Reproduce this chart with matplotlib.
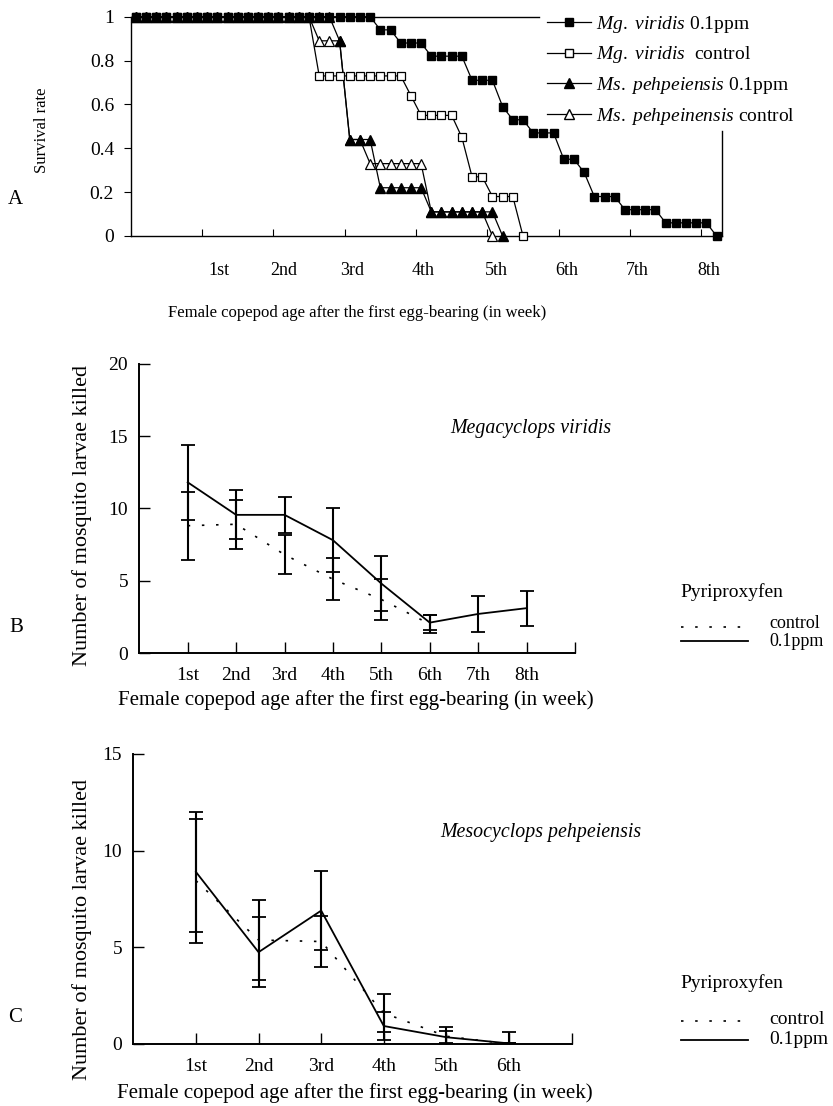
import numpy as np
import matplotlib
matplotlib.use("Agg")
import matplotlib.pyplot as plt
from matplotlib.lines import Line2D

plt.rcParams['font.family'] = ['Liberation Serif', 'DejaVu Serif']
plt.rcParams['mathtext.fontset'] = 'custom'
plt.rcParams['mathtext.rm'] = 'Liberation Serif'
plt.rcParams['mathtext.it'] = 'Liberation Serif:italic'

nan = np.nan
# ---------------- Panel A : survival rate (daily, 58 days) ----------------
mg_01 = [1.0, 1.0, 1.0, 1.0, 1.0, 1.0, 1.0, 1.0, 1.0, 1.0, 1.0, 1.0,
         1.0, 1.0, 1.0, 1.0, 1.0, 1.0, 1.0, 1.0, 1.0, 1.0, 1.0, 1.0,
         0.94, 0.94, 0.88, 0.88, 0.88, 0.82, 0.82, 0.82, 0.82,
         0.71, 0.71, 0.71, 0.59, 0.53, 0.53, 0.47, 0.47, 0.47,
         0.35, 0.35, 0.29, 0.18, 0.18, 0.18, 0.12, 0.12, 0.12, 0.12,
         0.06, 0.06, 0.06, 0.06, 0.06, 0.0]
mg_ctrl = [1.0, 1.0, 1.0, 1.0, 1.0, 1.0, 1.0, 1.0, 1.0, 1.0, 1.0, 1.0,
           1.0, 1.0, 1.0, 1.0, 1.0, 1.0,
           0.73, 0.73, 0.73, 0.73, 0.73, 0.73, 0.73, 0.73, 0.73,
           0.64, 0.55, 0.55, 0.55, 0.55, 0.45, 0.27, 0.27,
           0.18, 0.18, 0.18, 0.0,
           nan, nan, nan, nan, nan, nan, nan, nan, nan, nan,
           nan, nan, nan, nan, nan, nan, nan, nan, nan]
ms_01 = [1.0, 1.0, 1.0, 1.0, 1.0, 1.0, 1.0, 1.0, 1.0, 1.0, 1.0, 1.0,
         1.0, 1.0, 1.0, 1.0, 1.0, 1.0, 1.0, 1.0,
         0.89, 0.44, 0.44, 0.44, 0.22, 0.22, 0.22, 0.22, 0.22,
         0.11, 0.11, 0.11, 0.11, 0.11, 0.11, 0.11, 0.0,
         nan, nan, nan, nan, nan, nan, nan, nan, nan, nan, nan,
         nan, nan, nan, nan, nan, nan, nan, nan, nan, nan]
ms_ctrl = [1.0, 1.0, 1.0, 1.0, 1.0, 1.0, 1.0, 1.0, 1.0, 1.0, 1.0, 1.0,
           1.0, 1.0, 1.0, 1.0, 1.0, 1.0,
           0.89, 0.89, 0.89, 0.44, 0.44,
           0.33, 0.33, 0.33, 0.33, 0.33, 0.33,
           0.11, 0.11, 0.11, 0.11, 0.11, 0.11, 0.0,
           nan, nan, nan, nan, nan, nan, nan, nan, nan, nan, nan,
           nan, nan, nan, nan, nan, nan, nan, nan, nan, nan, nan]
week_labels = ['1st', '2nd', '3rd', '4th', '5th', '6th', '7th', '8th']
a_label_pos = [8.66, 15.0, 21.7, 28.7, 35.9, 42.8, 49.7, 56.7]
a_yticks = [0, 0.2, 0.4, 0.6, 0.8, 1.0]
a_yticklabels = ['0', '0.2', '0.4', '0.6', '0.8', '1']

# ---------------- Panel B : Megacyclops viridis ----------------
b_weeks = [1, 2, 3, 4, 5, 6, 7, 8]
b_ppm = [11.8, 9.55, 9.55, 7.8, 4.8, 2.1, 2.7, 3.1]
b_ppm_err = [2.6, 1.7, 1.25, 2.2, 1.9, 0.5, 1.27, 1.2]
b_ctrl_weeks = [1, 2, 3, 4, 5, 6]
b_ctrl = [8.8, 8.9, 6.8, 5.1, 3.7, 2.0]
b_ctrl_err = [2.35, 1.7, 1.33, 1.45, 1.45, 0.6]

# ---------------- Panel C : Mesocyclops pehpeiensis ----------------
c_weeks = [1, 2, 3, 4, 5, 6]
c_ppm = [8.9, 4.75, 6.9, 0.93, 0.35, 0.03]
c_ppm_err = [3.1, 1.8, 2.05, 0.7, 0.3, 0.0]
c_ctrl_weeks = [1, 2, 3, 4, 5, 6]
c_ctrl = [8.45, 5.38, 5.3, 1.6, 0.4, 0.0]
c_ctrl_err = [3.2, 2.07, 1.3, 1.0, 0.5, 0.6]

W, H = 833, 1106
fig = plt.figure(figsize=(W / 100, H / 100), dpi=100)


def fx(px):
    return px / W


def fy(py):
    return 1 - py / H


def axes_px(l, t, r, b):
    return fig.add_axes([fx(l), fy(b), (r - l) / W, (b - t) / H])


FS = 14

# ================= Panel A =================
axA = axes_px(130.7, 16.7, 721.7, 236)
days = np.arange(len(mg_01)) + 0.5
axA.plot(days, ms_ctrl, color='black', lw=0.9, marker='^', ms=6.5,
         mfc='white', mec='black', mew=0.9, clip_on=False, zorder=3)
axA.plot(days, ms_01, color='black', lw=0.9, marker='^', ms=6.5,
         mfc='black', mec='black', clip_on=False, zorder=4)
axA.plot(days, mg_ctrl, color='black', lw=0.9, marker='s', ms=6,
         mfc='white', mec='black', mew=0.9, clip_on=False, zorder=5)
axA.plot(days, mg_01, color='black', lw=0.9, marker='s', ms=6,
         mfc='black', mec='black', clip_on=False, zorder=6)
axA.set_xlim(0, 58)
axA.set_ylim(0, 1)
axA.set_xticks([7, 14, 21, 28, 35, 42, 49, 56])
axA.set_xticklabels([])
axA.set_xticks(a_label_pos, minor=True)
axA.set_xticklabels(week_labels, minor=True)
axA.tick_params(axis='x', which='major', direction='in', length=5, width=0.8)
axA.tick_params(axis='x', which='minor', length=0, pad=19, labelsize=13)
axA.set_yticks(a_yticks)
axA.set_yticklabels(a_yticklabels)
axA.tick_params(axis='y', direction='out', length=5, width=0.8, pad=7,
                labelsize=14)
for s in axA.spines.values():
    s.set_linewidth(1.0)
axA.spines['top'].set_bounds(0, 40.1)
axA.spines['right'].set_bounds(0, 0.479)

hA = [Line2D([], [], color='black', lw=0.9, marker='s', ms=6, mfc='black', mec='black'),
      Line2D([], [], color='black', lw=0.9, marker='s', ms=6, mfc='white', mec='black'),
      Line2D([], [], color='black', lw=0.9, marker='^', ms=6.5, mfc='black', mec='black'),
      Line2D([], [], color='black', lw=0.9, marker='^', ms=6.5, mfc='white', mec='black')]
lA = [r'$\mathit{Mg.\ viridis}$ 0.1ppm',
      r'$\mathit{Mg.\ viridis}$  control',
      r'$\mathit{Ms.\ pehpeiensis}$ 0.1ppm',
      r'$\mathit{Ms.\ pehpeinensis}$ control']
fig.legend(hA, lA, loc='upper left', bbox_to_anchor=(fx(533), fy(0)),
           frameon=False, fontsize=14, handlelength=2.3, handletextpad=0.25,
           labelspacing=0.5, borderpad=0.2)

fig.text(fx(42), fy(130), 'Survival rate', rotation=90, ha='center',
         va='center', fontsize=12)
fig.text(fx(357), fy(313), 'Female copepod age after the first egg-bearing (in week)',
         ha='center', va='center', fontsize=12)
fig.text(fx(15), fy(199), 'A', ha='center', va='center', fontsize=15)


# ================= Panels B & C =================
def count_panel(ax, xmax, ymax, yticks, ppm_x, ppm, ppm_err, ctrl_x, ctrl, ctrl_err):
    ax.errorbar(ctrl_x, ctrl, yerr=ctrl_err, color='black', lw=1.2,
                ls=(0, (1.5, 7)), elinewidth=1.5, capsize=5, capthick=1.3)
    ax.errorbar(ppm_x, ppm, yerr=ppm_err, color='black', lw=1.3,
                ls='-', elinewidth=1.5, capsize=5, capthick=1.3)
    ax.set_xlim(0, xmax)
    ax.set_ylim(0, ymax)
    ax.set_xticks(list(range(1, xmax + 1)))
    ax.set_xticklabels(week_labels[:xmax - 1] + [''])
    ax.set_yticks(yticks)
    ax.tick_params(axis='both', direction='in', length=8, width=1.0,
                   labelsize=FS)
    ax.tick_params(axis='x', pad=10)
    ax.tick_params(axis='y', pad=8)
    ax.spines['top'].set_visible(False)
    ax.spines['right'].set_visible(False)
    ax.spines['left'].set_linewidth(1.4)
    ax.spines['bottom'].set_linewidth(1.4)


axB = axes_px(139.3, 363.7, 575, 653)
count_panel(axB, 9, 20, [0, 5, 10, 15, 20], b_weeks, b_ppm, b_ppm_err,
            b_ctrl_weeks, b_ctrl, b_ctrl_err)
fig.text(fx(531), fy(428), 'Megacyclops viridis', style='italic',
         ha='center', va='center', fontsize=14.3)
fig.text(fx(82), fy(515), 'Number of mosquito larvae killed', rotation=90,
         ha='center', va='center', fontsize=16)
fig.text(fx(356), fy(700), 'Female copepod age after the first egg-bearing (in week)',
         ha='center', va='center', fontsize=15)
fig.text(fx(16), fy(628), 'B', ha='center', va='center', fontsize=15)

axC = axes_px(133.3, 754, 571.7, 1044)
count_panel(axC, 7, 15, [0, 5, 10, 15], c_weeks, c_ppm, c_ppm_err,
            c_ctrl_weeks, c_ctrl, c_ctrl_err)
fig.text(fx(541), fy(833), 'Mesocyclops pehpeiensis', style='italic',
         ha='center', va='center', fontsize=14.3)
fig.text(fx(82), fy(930), 'Number of mosquito larvae killed', rotation=90,
         ha='center', va='center', fontsize=16)
fig.text(fx(355), fy(1093), 'Female copepod age after the first egg-bearing (in week)',
         ha='center', va='center', fontsize=15)
fig.text(fx(15), fy(1018), 'C', ha='center', va='center', fontsize=15)


def side_legend(top, y_ctrl, y_ppm, ty_ctrl, ty_ppm, fs):
    fig.text(fx(680), fy(top), 'Pyriproxyfen', ha='left', va='center', fontsize=14)
    fig.add_artist(Line2D([fx(681), fx(742)], [fy(y_ctrl)] * 2, color='black',
                          lw=1.2, ls=(0, (1.5, 7)), transform=fig.transFigure))
    fig.add_artist(Line2D([fx(681), fx(748)], [fy(y_ppm)] * 2, color='black',
                          lw=1.3, transform=fig.transFigure))
    fig.text(fx(769), fy(ty_ctrl), 'control', ha='left', va='center', fontsize=fs)
    fig.text(fx(769), fy(ty_ppm), '0.1ppm', ha='left', va='center', fontsize=fs)


side_legend(592, 627, 641, 623, 642, 13)
side_legend(983, 1021, 1040, 1020, 1040, 14)

fig.savefig('out.png', dpi=100)
